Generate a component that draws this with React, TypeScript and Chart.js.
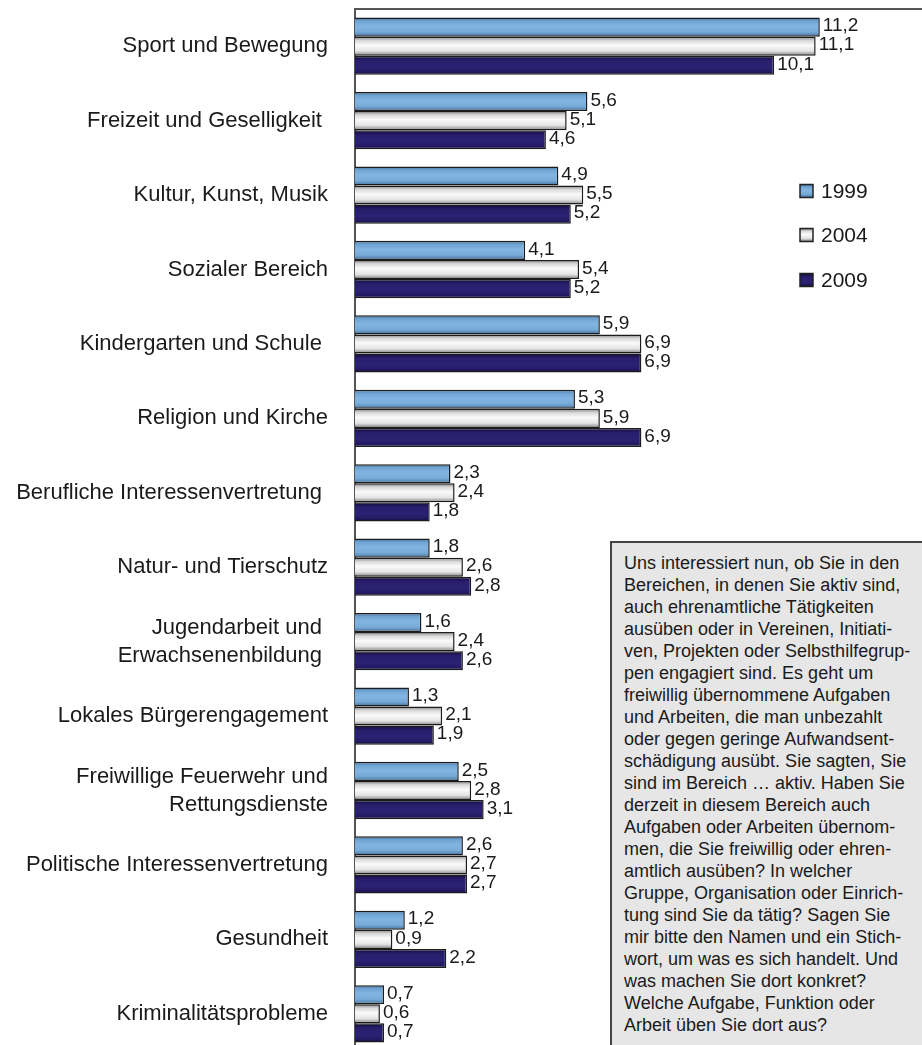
import React, { useEffect, useRef } from "react";
import { Chart, registerables } from "chart.js";

Chart.register(...registerables);

const CATEGORIES: (string | string[])[] = [
  "Sport und Bewegung",
  "Freizeit und Geselligkeit ",
  "Kultur, Kunst, Musik",
  "Sozialer Bereich",
  "Kindergarten und Schule ",
  "Religion und Kirche",
  "Berufliche Interessenvertretung ",
  "Natur- und Tierschutz",
  ["Jugendarbeit und ", "Erwachsenenbildung "],
  "Lokales Bürgerengagement",
  ["Freiwillige Feuerwehr und", "Rettungsdienste"],
  "Politische Interessenvertretung",
  "Gesundheit",
  "Kriminalitätsprobleme",
];

const SERIES_LABELS = ["1999", "2004", "2009"];
const VALUES_1999 = [11.2, 5.6, 4.9, 4.1, 5.9, 5.3, 2.3, 1.8, 1.6, 1.3, 2.5, 2.6, 1.2, 0.7];
const VALUES_2004 = [11.1, 5.1, 5.5, 5.4, 6.9, 5.9, 2.4, 2.6, 2.4, 2.1, 2.8, 2.7, 0.9, 0.6];
const VALUES_2009 = [10.1, 4.6, 5.2, 5.2, 6.9, 6.9, 1.8, 2.8, 2.6, 1.9, 3.1, 2.7, 2.2, 0.7];

const TEXT_LINES = [
  "Uns interessiert nun, ob Sie in den",
  "Bereichen, in denen Sie aktiv sind,",
  "auch ehrenamtliche Tätigkeiten",
  "ausüben oder in Vereinen, Initiati-",
  "ven, Projekten oder Selbsthilfegrup-",
  "pen engagiert sind. Es geht um",
  "freiwillig übernommene Aufgaben",
  "und Arbeiten, die man unbezahlt",
  "oder gegen geringe Aufwandsent-",
  "schädigung ausübt. Sie sagten, Sie",
  "sind im Bereich … aktiv. Haben Sie",
  "derzeit in diesem Bereich auch",
  "Aufgaben oder Arbeiten übernom-",
  "men, die Sie freiwillig oder ehren-",
  "amtlich ausüben? In welcher",
  "Gruppe, Organisation oder Einrich-",
  "tung sind Sie da tätig? Sagen Sie",
  "mir bitte den Namen und ein Stich-",
  "wort, um was es sich handelt. Und",
  "was machen Sie dort konkret?",
  "Welche Aufgabe, Funktion oder",
  "Arbeit üben Sie dort aus?",
];

const FONT = "'Liberation Sans', Arial, Helvetica, sans-serif";
const TEXT_COLOR = "#1a1a1a";
const CAT_PCT = 0.77;

const STOPS: [number, string][][] = [
  [
    [0, "#3d6a96"],
    [0.18, "#6fa3d2"],
    [0.45, "#82b5e2"],
    [0.75, "#78aad8"],
    [1, "#426f9a"],
  ],
  [
    [0, "#7a7a7a"],
    [0.2, "#d8d8d8"],
    [0.45, "#fafafa"],
    [0.75, "#e4e4e4"],
    [1, "#7c7c7c"],
  ],
  [
    [0, "#0f0a36"],
    [0.25, "#281e6c"],
    [0.6, "#2c2274"],
    [0.85, "#231a62"],
    [1, "#0e0932"],
  ],
];
const BASE = ["#7badd8", "#e8e8e8", "#2a2070"];

function grad(ctx: CanvasRenderingContext2D, top: number, bottom: number, di: number) {
  const g = ctx.createLinearGradient(0, top, 0, bottom);
  for (const [o, c] of STOPS[di]) g.addColorStop(o, c);
  return g;
}

const fmt = (v: number) => v.toFixed(1).replace(".", ",");

const valueLabels = {
  id: "valueLabels",
  afterDatasetsDraw(chart: any) {
    const ctx = chart.ctx;
    ctx.save();
    ctx.font = `19px ${FONT}`;
    ctx.fillStyle = TEXT_COLOR;
    ctx.textAlign = "left";
    ctx.textBaseline = "middle";
    chart.data.datasets.forEach((ds: any, di: number) => {
      const meta = chart.getDatasetMeta(di);
      meta.data.forEach((el: any, i: number) => {
        ctx.fillText(fmt(ds.data[i]), el.x + 3, el.y - 1);
      });
    });
    ctx.restore();
  },
};

const frame = {
  id: "frame",
  afterDraw(chart: any) {
    const { ctx, chartArea } = chart;
    ctx.save();
    ctx.strokeStyle = "#555";
    ctx.lineWidth = 2;
    ctx.beginPath();
    ctx.moveTo(chartArea.left, chartArea.top);
    ctx.lineTo(chartArea.right, chartArea.top);
    ctx.stroke();
    ctx.restore();
  },
};

const customLegend = {
  id: "customLegend",
  afterDraw(chart: any) {
    const ctx = chart.ctx;
    const x = 800;
    const ys = [191, 235, 280];
    ctx.save();
    chart.data.datasets.forEach((ds: any, di: number) => {
      const y = ys[di];
      const s = 13;
      ctx.fillStyle = grad(ctx, y - s / 2, y + s / 2, di);
      ctx.fillRect(x, y - s / 2, s, s);
      ctx.strokeStyle = "#222";
      ctx.lineWidth = 1.5;
      ctx.strokeRect(x, y - s / 2, s, s);
      ctx.font = `21px ${FONT}`;
      ctx.fillStyle = TEXT_COLOR;
      ctx.textBaseline = "middle";
      ctx.textAlign = "left";
      ctx.fillText(ds.label, x + 21, y + 1);
    });
    ctx.restore();
  },
};

function ChartView() {
  const ref = useRef<HTMLCanvasElement | null>(null);
  useEffect(() => {
    if (!ref.current) return;
    const series = [VALUES_1999, VALUES_2004, VALUES_2009];
    const chart = new Chart(ref.current, {
      type: "bar",
      data: {
        labels: CATEGORIES,
        datasets: series.map((vals, di) => ({
          label: SERIES_LABELS[di],
          data: vals,
          borderColor: "#1c1c1c",
          borderWidth: 1.5,
          categoryPercentage: CAT_PCT,
          barPercentage: 1,
          backgroundColor: (c: any) => {
            const chart = c.chart;
            const y = chart.scales?.y;
            if (!y || c.type !== "data" || !isFinite(y.top)) return BASE[di];
            const band = (y.bottom - y.top) / CATEGORIES.length;
            const group = band * CAT_PCT;
            const barH = group / 3;
            const center = y.getPixelForValue(c.dataIndex);
            const top = center - group / 2 + c.datasetIndex * barH;
            return grad(chart.ctx, top, top + barH, c.datasetIndex);
          },
        })),
      },
      options: {
        indexAxis: "y",
        responsive: false,
        animation: false,
        devicePixelRatio: 1,
        layout: { padding: { top: 9, bottom: 9, right: 14, left: 0 } },
        plugins: {
          legend: { display: false },
          tooltip: { enabled: false },
        },
        scales: {
          x: { display: false, min: 0, max: 14 },
          y: {
            afterFit: (s: any) => {
              s.width = 355;
              s.paddingTop = 0;
              s.paddingBottom = 0;
            },
            grid: { display: false, drawTicks: false },
            border: { display: true, color: "#555", width: 2 },
            ticks: {
              padding: 27,
              color: TEXT_COLOR,
              font: { family: FONT, size: 22, lineHeight: 1.27 },
            },
          },
        },
      },
      plugins: [valueLabels, frame, customLegend],
    });
    return () => chart.destroy();
  }, []);
  return <canvas ref={ref} width={950} height={1060} style={{ display: "block" }} />;
}

export default function App() {
  return (
    <div
      style={{
        position: "absolute",
        left: 0,
        top: 0,
        width: 922,
        height: 1045,
        overflow: "hidden",
        background: "#fff",
      }}
    >
      <ChartView />
      <div
        style={{
          position: "absolute",
          left: 610,
          top: 541,
          width: 340,
          height: 540,
          boxSizing: "border-box",
          border: "2px solid #444",
          background: "#e6e6e6",
          padding: "9px 0 0 12px",
          fontFamily: FONT,
          fontSize: 18,
          lineHeight: "22px",
          color: TEXT_COLOR,
          whiteSpace: "pre",
        }}
      >
        {TEXT_LINES.map((l, i) => (
          <div key={i}>{l}</div>
        ))}
      </div>
    </div>
  );
}
